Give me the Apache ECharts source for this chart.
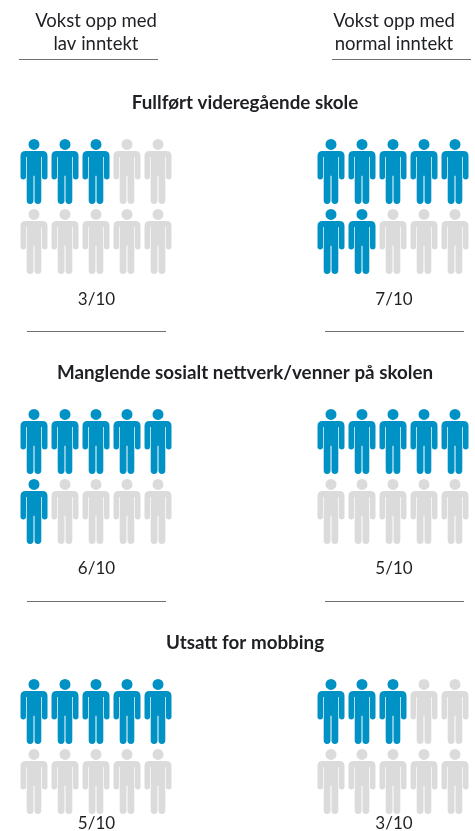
<!DOCTYPE html>
<html>
<head>
<meta charset="utf-8">
<style>html,body{margin:0;padding:0;background:#fff}#c{width:475px;height:831px}</style>
<script src="https://cdn.jsdelivr.net/npm/echarts@6/dist/echarts.min.js"></script>
</head>
<body>
<div id="c"></div>
<script>
const groupHeaders = [["Vokst opp med", "lav inntekt"], ["Vokst opp med", "normal inntekt"]];
const measures = ["Fullført videregående skole", "Manglende sosialt nettverk/venner på skolen", "Utsatt for mobbing"];
const lowIncomeCounts = [3, 6, 5];
const normalIncomeCounts = [7, 5, 3];
const columns = ["1", "2", "3", "4", "5"];
const rows = ["1", "2"];
const totalPeople = 10;

const BLUE = "#0091c5", GREY = "#dbdbdb", INK = "#1f2024", RULE = "#6f6f6f";
const FONT = "Lato";
const person = "path://M13.5 0a5.5 5.5 0 1 1 0 11a5.5 5.5 0 1 1 0 -11ZM5 12H22Q27 12 27 17V38A2.75 2.75 0 0 1 21.5 38V18H20.8V62A3.4 3.4 0 0 1 14 62V37H13V62A3.4 3.4 0 0 1 6.2 62V18H5.5V38A2.75 2.75 0 0 1 0 38V17Q0 12 5 12Z";

const panelTops = [136.5, 406.5, 676.5];
const panelLefts = [18.5, 315.5];
const grids = [], xAxes = [], yAxes = [], series = [];

function addPanel(count, left, top, name) {
  const idx = grids.length;
  grids.push({ left: left, top: top, width: 155, height: 140 });
  xAxes.push({ type: "category", gridIndex: idx, data: columns, show: false });
  yAxes.push({ type: "category", gridIndex: idx, data: rows, inverse: true, show: false });
  const filled = [], empty = [];
  for (let i = 0; i < totalPeople; i++) {
    const pt = [columns[i % columns.length], rows[Math.floor(i / columns.length)]];
    (i < count ? filled : empty).push(pt);
  }
  [[filled, BLUE, "ja"], [empty, GREY, "nei"]].forEach(([data, color, kind]) => {
    series.push({
      type: "scatter", name: name + " " + kind, xAxisIndex: idx, yAxisIndex: idx,
      data: data, symbol: person, symbolSize: [27, 65], silent: true,
      itemStyle: { color: color, opacity: 1 }, animation: false
    });
  });
}
measures.forEach((m, i) => {
  addPanel(lowIncomeCounts[i], panelLefts[0], panelTops[i], m + " lav");
  addPanel(normalIncomeCounts[i], panelLefts[1], panelTops[i], m + " normal");
});

function txt(s, x, y, size, weight) {
  return { type: "text", x: x, y: y, silent: true, style: {
    text: s, fill: INK, align: "center", verticalAlign: "middle",
    font: (weight || 400) + " " + size + "px " + FONT } };
}
function rule(x1, x2, y) {
  return { type: "line", silent: true, shape: { x1: x1, y1: y, x2: x2, y2: y },
    style: { stroke: RULE, lineWidth: 1 } };
}
const graphics = [
  txt(groupHeaders[0][0], 96, 21, 18.5), txt(groupHeaders[0][1], 96, 44, 18.5),
  txt(groupHeaders[1][0], 394, 21, 18.5), txt(groupHeaders[1][1], 394, 44, 18.5),
  rule(19, 158, 59.5), rule(332, 471, 59.5),
  rule(27, 166, 331.5), rule(325, 464, 331.5),
  rule(27, 166, 601.5), rule(325, 464, 601.5)
];
const titleY = [103, 373, 643], fracY = [300, 569, 824];
measures.forEach((m, i) => {
  graphics.push(txt(m, 245, titleY[i], 18.8, 700));
  graphics.push(txt(lowIncomeCounts[i] + "/" + totalPeople, 96.5, fracY[i], 17));
  graphics.push(txt(normalIncomeCounts[i] + "/" + totalPeople, 394, fracY[i], 17));
});

const chart = echarts.init(document.getElementById("c"), null, { renderer: "canvas" });
chart.setOption({
  animation: false, backgroundColor: "#fff",
  grid: grids, xAxis: xAxes, yAxis: yAxes, series: series,
  graphic: { elements: graphics }
});
</script>
</body>
</html>
